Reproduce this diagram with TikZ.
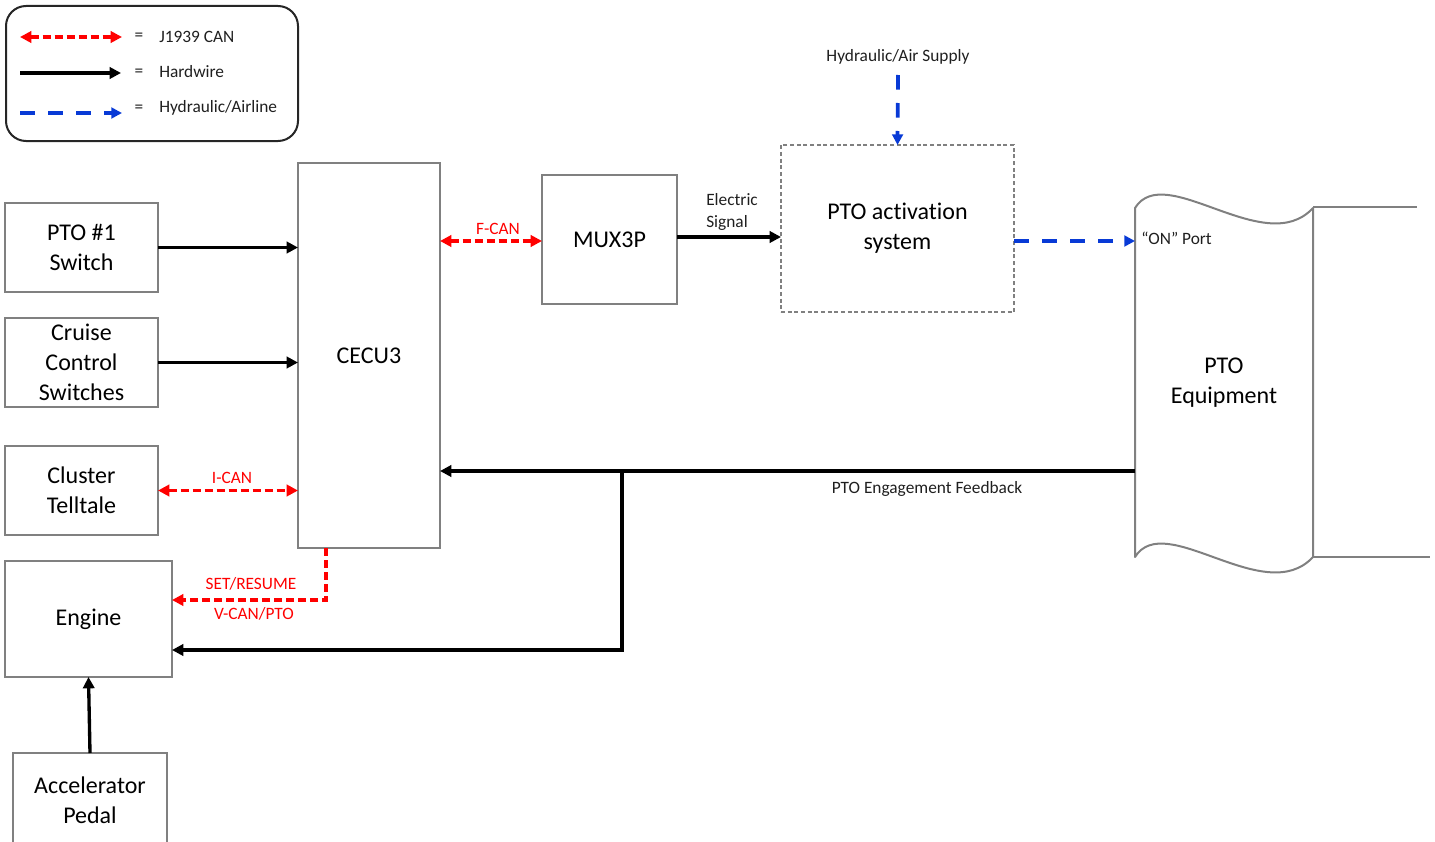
\documentclass[tikz,border=0pt]{standalone}
\usepackage{fontspec}
\setmainfont{Carlito}[Ligatures=NoCommon]
\usetikzlibrary{arrows.meta}
\definecolor{boxgray}{RGB}{128,128,128}
\definecolor{canred}{RGB}{255,0,0}
\definecolor{airblue}{RGB}{8,58,214}
\begin{document}
\begin{tikzpicture}[x=0.75pt,y=-0.75pt,
  box/.style={draw=boxgray, line width=1.5pt, align=center, font=\fontsize{18}{22.5}\selectfont, inner sep=0pt, outer sep=0pt},
  dbox/.style={box, dash pattern=on 3pt off 2pt, line width=1.2pt},
  tipT/.tip={Triangle[length=8.5pt,width=8.5pt]},
  hw/.style={line width=2.5pt, color=black, -tipT},
  canbase/.style={line width=2.4pt, color=canred, dash pattern=on 6pt off 3pt},
  can/.style={canbase, tipT-tipT},
  canone/.style={canbase, -tipT},
  air/.style={line width=2.8pt, color=airblue, dash pattern=on 11pt off 10pt, -{Triangle[length=8pt,width=8pt]}},
  lbl/.style={font=\fontsize{13}{15.8}\selectfont, inner sep=0pt, text=black!88},
  redlbl/.style={lbl, text=canred},
]
\clip (0,0) rectangle (1435,842);

% ---------- legend ----------
\node[draw=black!85, line width=1.5pt, rounded corners=15pt, minimum width={292*0.75pt}, minimum height={135*0.75pt}, inner sep=0pt] (legend) at (152,73.5) {};
\coordinate (l1a) at (20,37);  \coordinate (l1b) at (122,37);
\coordinate (l2a) at (20,73);  \coordinate (l2b) at (121,73);
\coordinate (l3a) at (20,113); \coordinate (l3b) at (122,113);
\draw[can] (l1a) -- (l1b);
\draw[hw] (l2a) -- (l2b);
\draw[air] (l3a) -- (l3b);
\node[lbl] (eq1) at (139,37) {=};
\node[lbl] (eq2) at (139,73) {=};
\node[lbl] (eq3) at (139,109) {=};
\node[lbl, anchor=west] (lt1) at (159,37) {J1939 CAN};
\node[lbl, anchor=west] (lt2) at (159,72) {Hardwire};
\node[lbl, anchor=west] (lt3) at (159,108) {Hydraulic/Airline};

% ---------- boxes ----------
\node[box, minimum width={153*0.75pt}, minimum height={89*0.75pt}] (pto1) at (81.5,247.5) {PTO \#1\\Switch};
\node[box, minimum width={153*0.75pt}, minimum height={89*0.75pt}] (cruise) at (81.5,362.5) {Cruise\\Control\\Switches};
\node[box, minimum width={153*0.75pt}, minimum height={89*0.75pt}] (cluster) at (81.5,490.5) {Cluster\\Telltale};
\node[box, minimum width={167*0.75pt}, minimum height={116*0.75pt}] (engine) at (88.5,619) {Engine};
\node[box, minimum width={154*0.75pt}, minimum height={94*0.75pt}] (accel) at (90,800) {Accelerator\\Pedal};
\node[box, minimum width={142*0.75pt}, minimum height={385*0.75pt}] (cecu) at (369,355.5) {CECU3};
\node[box, minimum width={135*0.75pt}, minimum height={129*0.75pt}] (mux) at (609.5,239.5) {MUX3P};
\node[dbox, minimum width={233*0.75pt}, minimum height={167*0.75pt}] (act) at (897.5,228.5) {PTO activation\\system};

% PTO equipment (wavy document shape)
\node[box, draw=none, minimum width={178*0.75pt}, minimum height={349*0.75pt}] (eqp) at (1224,382.5) {PTO\\Equipment};
\draw[boxgray, line width=1.5pt, line join=round]
  (1135,208) .. controls (1165,160) and (1265,260) .. (1313,208)
  -- (1313,557) .. controls (1265,609) and (1165,509) .. (1135,557) -- cycle;
\draw[boxgray, line width=1.5pt] (1313,207) -- (1417,207);
\draw[boxgray, line width=1.5pt] (1313,557) -- (1430,557);

% ---------- labels ----------
\node[lbl] (supply) at (898,57) {Hydraulic/Air Supply};
\coordinate (supplyTop) at (898,75);
\node[lbl, anchor=west, align=left] (elec) at (706,212) {Electric\\Signal};
\node[lbl, anchor=west] (onport) at (1141,238) {“ON” Port};
\node[redlbl] (fcan) at (498,229) {F-CAN};
\node[redlbl] (ican) at (232,478) {I-CAN};
\node[redlbl] (setres) at (251,584) {SET/RESUME};
\node[redlbl] (vcan) at (254,614) {V-CAN/PTO};
\node[lbl] (fbl) at (927,489) {PTO Engagement Feedback};

% ---------- connectors ----------
\coordinate (yElec) at (0,237);
\coordinate (yOn) at (0,241);
\coordinate (yFb) at (0,471);
\coordinate (yVcan) at (0,600);
\coordinate (yEng) at (0,650);
\coordinate (xVcan) at (326,0);
\coordinate (junction) at (622,471);

\draw[hw] (pto1.east) -- (cecu.west |- pto1.east);
\draw[hw] (cruise.east) -- (cecu.west |- cruise.east);
\draw[can] (cluster.east) -- (cecu.west |- cluster.east);
\draw[can] (cecu.east |- yOn) -- (mux.west |- yOn);
\draw[hw] (mux.east |- yElec) -- (act.west |- yElec);
\draw[air] (supplyTop) -- (act.north);
\draw[air] (act.east |- yOn) -- (eqp.west |- yOn);
\draw[hw] (eqp.west |- yFb) -- (cecu.east |- yFb);
\draw[hw] (junction) |- (engine.east |- yEng);
\draw[canone] (cecu.south -| xVcan) |- (engine.east |- yVcan);
\draw[hw] (accel.north) -- (engine.south);
\end{tikzpicture}
\end{document}
